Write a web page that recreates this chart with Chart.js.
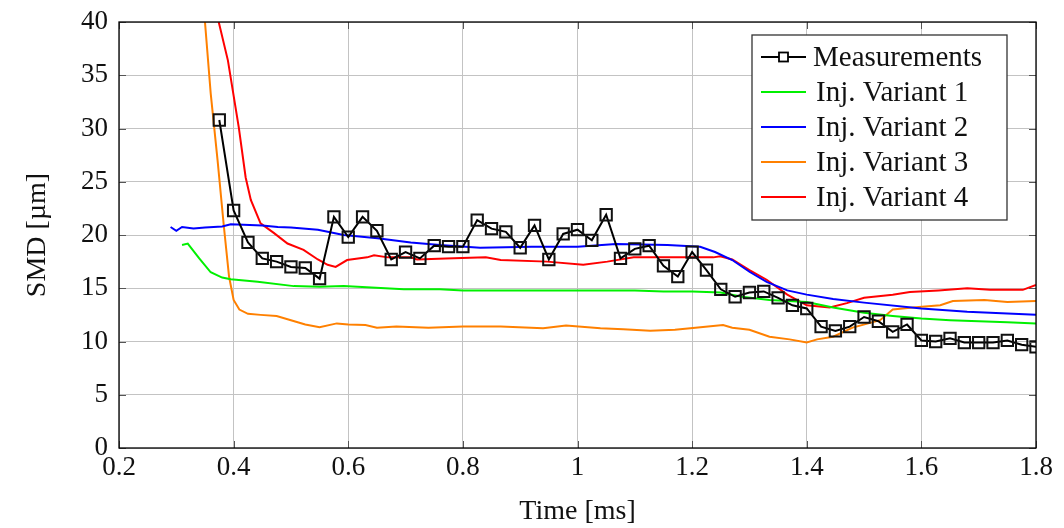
<!DOCTYPE html>
<html>
<head>
<meta charset="utf-8">
<script src="https://cdn.jsdelivr.net/npm/chart.js@4.4.1/dist/chart.umd.min.js"></script>
<style>
html, body { margin: 0; padding: 0; background: #fff; }
</style>
</head>
<body>
<canvas id="smdChart" width="1064" height="528"></canvas>
<script>
// Mediciones (cuadrados)
const medX = [0.375, 0.4, 0.425, 0.45, 0.475, 0.5, 0.525, 0.55, 0.575, 0.6, 0.625, 0.65, 0.675, 0.7, 0.725, 0.75, 0.775, 0.8,
    0.825, 0.85, 0.875, 0.9, 0.925, 0.95, 0.975, 1.0, 1.025, 1.05, 1.075, 1.1, 1.125, 1.15, 1.175, 1.2, 1.225, 1.25, 1.275,
    1.3, 1.325, 1.35, 1.375, 1.4, 1.425, 1.45, 1.475, 1.5, 1.525, 1.55, 1.575, 1.6, 1.625, 1.65, 1.675, 1.7, 1.725, 1.75, 1.775, 1.8];
const medY = [30.8, 22.3, 19.3, 17.8, 17.5, 17.0, 16.9, 15.9, 21.7, 19.8, 21.7, 20.4, 17.7, 18.4, 17.8, 19.0, 18.9, 18.9,
    21.4, 20.6, 20.3, 18.8, 20.9, 17.7, 20.1, 20.5, 19.5, 21.9, 17.8, 18.7, 19.0, 17.1, 16.1, 18.4, 16.7, 14.9, 14.2,
    14.6, 14.7, 14.1, 13.4, 13.1, 11.4, 11.0, 11.4, 12.3, 11.9, 10.9, 11.6, 10.1, 10.0, 10.3, 9.9, 9.9, 9.9, 10.1, 9.7, 9.5];

// Variante 1 (verde)
const v1X = [0.31, 0.32, 0.34, 0.36, 0.38, 0.395, 0.442, 0.505, 0.55, 0.592, 0.697, 0.76, 0.8, 0.9, 1.0, 1.1, 1.15, 1.2,
    1.25, 1.287, 1.335, 1.4, 1.446, 1.5, 1.55, 1.6, 1.65, 1.7, 1.75, 1.8];
const v1Y = [19.06, 19.2, 17.8, 16.5, 16.0, 15.85, 15.6, 15.2, 15.15, 15.2, 14.9, 14.9, 14.8, 14.8, 14.8, 14.8, 14.7, 14.7,
    14.6, 14.2, 13.9, 13.7, 13.2, 12.7, 12.4, 12.15, 12.0, 11.9, 11.8, 11.7];

// Variante 2 (azul)
const v2X = [0.29, 0.30, 0.31, 0.33, 0.35, 0.38, 0.395, 0.45, 0.477, 0.5, 0.547, 0.592, 0.651, 0.709, 0.76, 0.83, 0.92,
    1.0, 1.067, 1.157, 1.214, 1.24, 1.27, 1.3, 1.33, 1.366, 1.4, 1.446, 1.5, 1.6, 1.68, 1.8];
const v2Y = [20.75, 20.4, 20.75, 20.6, 20.7, 20.8, 21.0, 20.9, 20.75, 20.7, 20.5, 20.0, 19.7, 19.3, 19.05, 18.8, 18.9,
    18.9, 19.15, 19.06, 18.9, 18.4, 17.65, 16.55, 15.6, 14.8, 14.4, 14.0, 13.65, 13.1, 12.8, 12.5];

// Variante 3 (naranja)
const v3X = [0.35, 0.36, 0.372, 0.383, 0.392, 0.40, 0.41, 0.425, 0.447, 0.475, 0.50, 0.525, 0.55, 0.58, 0.60, 0.63, 0.65,
    0.684, 0.74, 0.80, 0.866, 0.94, 0.98, 1.04, 1.08, 1.127, 1.17, 1.197, 1.254, 1.27, 1.3, 1.335, 1.37, 1.40, 1.418,
    1.446, 1.48, 1.528, 1.55, 1.585, 1.633, 1.655, 1.71, 1.75, 1.8];
const v3Y = [40, 33.3, 27, 20.8, 16.1, 13.9, 13.0, 12.6, 12.5, 12.4, 12.0, 11.6, 11.35, 11.7, 11.6, 11.55, 11.3,
    11.4, 11.3, 11.4, 11.4, 11.25, 11.5, 11.25, 11.15, 11.0, 11.1, 11.25, 11.55, 11.3, 11.1, 10.45, 10.2, 9.9, 10.2,
    10.45, 11.3, 12.0, 13.0, 13.2, 13.4, 13.8, 13.9, 13.7, 13.8];

// Variante 4 (rojo)
const v4X = [0.374, 0.39, 0.409, 0.421, 0.43, 0.447, 0.47, 0.494, 0.522, 0.547, 0.564, 0.578, 0.598, 0.633, 0.645, 0.669,
    0.709, 0.72, 0.77, 0.84, 0.866, 0.947, 1.01, 1.052, 1.098, 1.157, 1.214, 1.237, 1.249, 1.27, 1.3, 1.33, 1.366, 1.4,
    1.44, 1.47, 1.5, 1.55, 1.58, 1.63, 1.68, 1.72, 1.777, 1.8];
const v4Y = [40, 36.4, 30.1, 25.4, 23.3, 21.1, 20.2, 19.2, 18.6, 17.7, 17.2, 17.0, 17.65, 17.9, 18.1, 17.9,
    17.9, 17.7, 17.8, 17.9, 17.65, 17.5, 17.2, 17.5, 17.9, 17.9, 17.9, 17.9, 18.0, 17.7, 16.7, 15.8, 14.4, 13.4,
    13.2, 13.6, 14.1, 14.4, 14.65, 14.8, 15.0, 14.85, 14.85, 15.3];

const etiquetas = ['Measurements', 'Inj. Variant 1', 'Inj. Variant 2', 'Inj. Variant 3', 'Inj. Variant 4'];
const xTicks = [0.2, 0.4, 0.6, 0.8, 1, 1.2, 1.4, 1.6, 1.8];
const yTicks = [0, 5, 10, 15, 20, 25, 30, 35, 40];

const fuente = '"Liberation Serif", "Times New Roman", serif';

function puntos(xs, ys) {
    return xs.map((x, i) => ({ x: x, y: ys[i] }));
}

function serie(label, xs, ys, color) {
    return {
        label: label,
        data: puntos(xs, ys),
        borderColor: color,
        backgroundColor: color,
        borderWidth: 2,
        pointRadius: 0,
        tension: 0
    };
}

// Marco negro y leyenda con borde, al estilo pgfplots
const marcoYLeyenda = {
    id: 'marcoYLeyenda',
    afterDatasetsDraw(chart) {
        const ctx = chart.ctx;
        const a = chart.chartArea;
        const xs = chart.scales.x, ys = chart.scales.y;
        ctx.save();
        // marcas de ticks hacia dentro
        ctx.strokeStyle = '#555';
        ctx.lineWidth = 1;
        ctx.beginPath();
        yTicks.forEach(v => {
            const py = Math.round(ys.getPixelForValue(v)) + 0.5;
            ctx.moveTo(a.left, py); ctx.lineTo(a.left + 7, py);
            ctx.moveTo(a.right, py); ctx.lineTo(a.right - 7, py);
        });
        xTicks.forEach(v => {
            const px = Math.round(xs.getPixelForValue(v)) + 0.5;
            ctx.moveTo(px, a.bottom); ctx.lineTo(px, a.bottom - 7);
            ctx.moveTo(px, a.top); ctx.lineTo(px, a.top + 7);
        });
        ctx.stroke();
        ctx.strokeStyle = '#000';
        ctx.lineWidth = 1.3;
        ctx.strokeRect(a.left, a.top, a.right - a.left, a.bottom - a.top);

        // leyenda
        const bx = a.right - 284, by = a.top + 13, bw = 255, bh = 185;
        ctx.fillStyle = '#fff';
        ctx.fillRect(bx, by, bw, bh);
        ctx.strokeStyle = '#333';
        ctx.lineWidth = 1.3;
        ctx.strokeRect(bx, by, bw, bh);
        ctx.font = '29px ' + fuente;
        ctx.textBaseline = 'middle';
        ctx.textAlign = 'left';
        chart.data.datasets.forEach((ds, i) => {
            const cy = by + 22 + i * 35;
            ctx.strokeStyle = ds.borderColor;
            ctx.lineWidth = 2;
            ctx.beginPath();
            ctx.moveTo(bx + 9, cy); ctx.lineTo(bx + 54, cy);
            ctx.stroke();
            if (i === 0) {
                ctx.lineWidth = 1.8;
                ctx.fillStyle = '#fff';
                ctx.fillRect(bx + 27, cy - 4.5, 9, 9);
                ctx.strokeRect(bx + 27, cy - 4.5, 9, 9);
            }
            ctx.fillStyle = '#111';
            ctx.fillText(ds.label, bx + (i === 0 ? 61 : 64), cy + 1);
        });
        ctx.restore();
    }
};

const ctx = document.getElementById('smdChart').getContext('2d');
new Chart(ctx, {
    type: 'line',
    data: {
        datasets: [
            {
                label: etiquetas[0],
                data: puntos(medX, medY),
                borderColor: '#000',
                backgroundColor: 'rgba(0,0,0,0)',
                borderWidth: 2,
                pointStyle: 'rect',
                pointRadius: 8,
                pointBorderWidth: 2,
                pointBorderColor: '#111',
                pointBackgroundColor: 'rgba(0,0,0,0)',
                tension: 0
            },
            serie(etiquetas[1], v1X, v1Y, 'rgb(0,240,0)'),
            serie(etiquetas[2], v2X, v2Y, 'rgb(0,0,255)'),
            serie(etiquetas[3], v3X, v3Y, 'rgb(255,128,0)'),
            serie(etiquetas[4], v4X, v4Y, 'rgb(255,0,0)')
        ]
    },
    options: {
        responsive: false,
        animation: false,
        layout: { padding: { top: 22, right: 28, left: 0, bottom: 0 } },
        plugins: {
            legend: { display: false },
            tooltip: { enabled: false }
        },
        scales: {
            x: {
                type: 'linear',
                min: 0.2,
                max: 1.8,
                afterFit: scale => {
                    scale.height = 80;
                    scale.paddingLeft = 0;
                    scale.paddingRight = 0;
                },
                afterBuildTicks: scale => { scale.ticks = xTicks.map(v => ({ value: v })); },
                ticks: {
                    padding: 4,
                    color: '#111',
                    font: { family: fuente, size: 27 },
                    maxRotation: 0,
                    callback: v => String(+Number(v).toFixed(2))
                },
                grid: { color: 'rgb(195,195,195)', lineWidth: 1, drawTicks: false },
                border: { display: false },
                title: {
                    display: true,
                    text: 'Time [ms]',
                    color: '#111',
                    font: { family: fuente, size: 28, lineHeight: 1 },
                    padding: { top: 0, bottom: 2 }
                }
            },
            y: {
                type: 'linear',
                min: 0,
                max: 40,
                afterFit: scale => {
                    scale.width = 119;
                    scale.paddingTop = 0;
                    scale.paddingBottom = 0;
                },
                afterBuildTicks: scale => { scale.ticks = yTicks.map(v => ({ value: v })); },
                ticks: {
                    padding: 11,
                    color: '#111',
                    font: { family: fuente, size: 27 }
                },
                grid: { color: 'rgb(195,195,195)', lineWidth: 1, drawTicks: false },
                border: { display: false },
                title: {
                    display: true,
                    text: 'SMD [µm]',
                    color: '#111',
                    font: { family: fuente, size: 28, lineHeight: 1 },
                    padding: { top: 24, bottom: 0 }
                }
            }
        }
    },
    plugins: [marcoYLeyenda]
});
</script>
</body>
</html>
